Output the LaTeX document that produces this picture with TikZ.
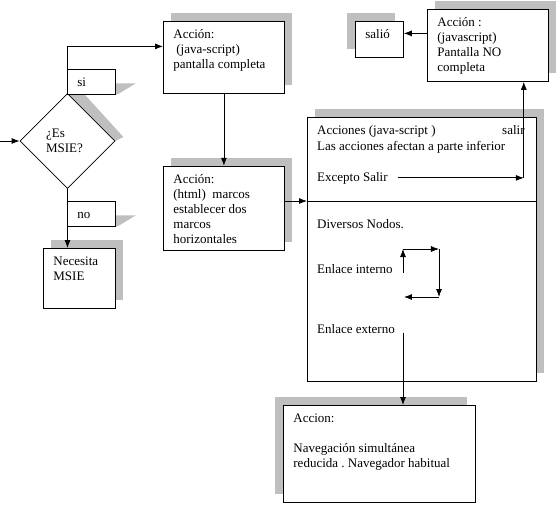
\documentclass[tikz,border=0pt]{standalone}
\usepackage{fontspec}
\setmainfont{Liberation Serif}
\usetikzlibrary{shapes.geometric, arrows.meta, positioning, shadows, calc, backgrounds}

\newcommand{\cajatexto}[3]{\parbox[t][#2][t]{#1}{\strut #3}}
\frenchspacing

\begin{document}
\begin{tikzpicture}[x=1pt, y=-1pt, font=\fontsize{13}{15}\selectfont]
    % Styles
    \tikzstyle{caja} = [rectangle, draw, fill=white, line width=0.8pt, anchor=north west, inner xsep=10pt, inner ysep=7pt]
    \tikzstyle{sombrader} = [drop shadow={shadow xshift=8pt, shadow yshift=8pt, fill=gray!50, opacity=1}]
    \tikzstyle{sombraizq} = [drop shadow={shadow xshift=-8pt, shadow yshift=8pt, fill=gray!50, opacity=1}]
    \tikzstyle{linea} = [draw, line width=0.8pt, -{Latex[length=8pt, width=6pt]}]
    \tikzstyle{texto} = [inner sep=0pt, anchor=base west]
    \tikzstyle{gris} = [fill=gray!50]

    \useasboundingbox (0,0) rectangle (557,504);

    % Nodes
    \coordinate (entrada) at (0,141);
    \node [draw, diamond, fill=white, line width=0.8pt, minimum width=95pt, minimum height=95pt, inner sep=0pt, align=left] (decision) at (67.5,141) {\hspace*{-6pt}¿Es\\\hspace*{-6pt}MSIE?};
    \node [caja] (si) at (67,69) {\cajatexto{28pt}{10pt}{si}};
    \node [caja] (no) at (67,201) {\cajatexto{28pt}{10pt}{no}};
    \node [caja, sombrader] (necesita) at (43,248) {\cajatexto{52pt}{46pt}{Necesita\\MSIE}};
    \node [caja, sombrader] (accion1) at (163,21) {\cajatexto{101pt}{58pt}{Acción:\\\hspace*{3pt}(java-script)\\pantalla completa}};
    \node [caja, sombrader, below=72pt of accion1] (accion2) {\cajatexto{101pt}{70pt}{Acción:\\(html)\ \ marcos\\establecer dos\\marcos\\horizontales}};
    \node [caja, sombrader, minimum width=229pt, minimum height=264pt] (acciones) at (307,117) {};
    \node [caja, sombrader] (accionno) at (427,9) {\cajatexto{101pt}{58pt}{Acción :\\(javascript)\\Pantalla NO\\completa}};
    \node [caja, sombraizq] (salio) at (355,21) {\cajatexto{28pt}{22pt}{salió}};
    \node [caja, sombraizq] (accionfin) at (283,405) {\cajatexto{172pt}{83pt}{Accion:\\[15pt]Navegación simultánea\\reducida . Navegador habitual}};

    % Texts of the frames
    \node [texto] (acc1) at (317,134) {Acciones (java-script )};
    \node [texto] (acc2) at (317,150) {Las acciones afectan a parte inferior};
    \node [texto] (salir) at (502,134) {salir};
    \node [texto] (excepto) at (317,181) {Excepto Salir};
    \node [texto] (diversos) at (317,228) {Diversos Nodos.};
    \node [texto] (interno) at (317,273) {Enlace interno};
    \node [texto] (externo) at (317,333) {Enlace externo};

    % Shadows of the question
    \begin{scope}[on background layer]
        \fill [gris] (decision.north) -- ([shift={(15,-1)}]decision.north) -- ([shift={(8,-4)}]decision.east) -- (decision.east) -- cycle;
        \fill [gris] (si.south east) -- ++(0,-11) -- ++(20,0) -- ([xshift=2pt]si.south east) -- cycle;
        \fill [gris] (no.south east) -- ++(0,-11) -- ++(20,0) -- ([xshift=2pt]no.south east) -- cycle;
    \end{scope}

    % Divider
    \coordinate (division) at ([yshift=-84pt]acciones.north west);
    \draw [line width=0.8pt] (division) -- (division -| acciones.east);

    % Connections
    \path [linea] (entrada) -- (decision.west);
    \path [linea] (decision.north) |- ([yshift=11pt]accion1.west);
    \path [linea] (decision.south) -- (decision.south |- necesita.north);
    \path [linea] (accion1) -- (accion2);
    \path [linea] (accion2.east |- division) -- (division);

    \coordinate (salioflecha) at ([yshift=12pt]accionno.west);
    \path [linea] (salioflecha) -- (salioflecha -| salio.east);

    \coordinate (inicio) at ([xshift=10pt]excepto.east);
    \coordinate (salida) at ([xshift=-25pt]accionno.south east);
    \path [linea] (inicio) -- (inicio -| salida);
    \path [linea] (inicio -| salida) -- (salida);

    \coordinate (c0) at ([xshift=8pt]externo.base east);
    \path [linea] (c0) -- (c0 |- accionfin.north);

    % Internal link loop
    \coordinate (b0) at (c0 |- interno.base east);
    \path (b0) ++(0,-24) coordinate (b1) ++(36,0) coordinate (b2) ++(0,48) coordinate (b3) ++(-35,0) coordinate (b4);
    \foreach \a/\b in {b0/b1, b1/b2, b2/b3, b3/b4}
        \path [linea] (\a) -- (\b);

\end{tikzpicture}
\end{document}
